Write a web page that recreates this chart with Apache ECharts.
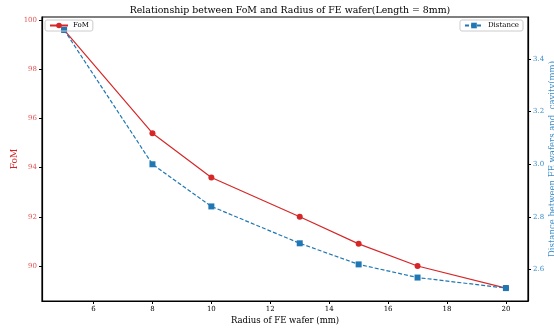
<!DOCTYPE html>
<html><head><meta charset="utf-8">
<script src="https://cdn.jsdelivr.net/npm/echarts@6/dist/echarts.min.js"></script>
<style>html,body{margin:0;padding:0;background:#fff}#c{width:554px;height:328px}</style>
</head><body><div id="c"></div>
<script>
const radius = [5, 8, 10, 13, 15, 17, 20];
const fom = [99.6, 95.4, 93.6, 92.0, 90.9, 90.0, 89.1];
const distance = [3.51, 3.00, 2.84, 2.70, 2.62, 2.57, 2.53];
const xTicks = [6, 8, 10, 12, 14, 16, 18, 20];
const fomTicks = [90, 92, 94, 96, 98, 100];
const distTicks = [2.6, 2.8, 3.0, 3.2, 3.4];

const RED = '#d62728', BLUE = '#1f77b4';
const FONT = 'DejaVu Serif';
function pad(arr){const mn=Math.min(...arr),mx=Math.max(...arr),d=(mx-mn)*0.05;return [mn-d,mx+d];}
const xr = pad(radius), fr = pad(fom), dr = pad(distance);

const chart = echarts.init(document.getElementById('c'));
chart.setOption({
  animation: false,
  title: {text: 'Relationship between FoM and Radius of FE wafer(Length = 8mm)', left: 285, textAlign: 'center', top: 1,
    textStyle: {fontFamily: FONT, fontSize: 9.4, fontWeight: 'normal', color: '#000'}},
  grid: {left: 42, right: 26, top: 17, bottom: 27, outerBoundsMode: 'none', containLabel: false,
    show: true, borderColor: '#000', borderWidth: 1.2, backgroundColor: 'transparent'},
  legend: [
    {data: ['FoM'], left: 45, top: 20, orient: 'vertical', borderColor: '#ccc', borderWidth: 1, borderRadius: 2,
     padding: [2, 4], itemWidth: 18, itemHeight: 7, itemGap: 2,
     textStyle: {fontFamily: FONT, fontSize: 7, color: '#000'}},
    {data: ['Distance'], right: 31, top: 20, orient: 'vertical', borderColor: '#ccc', borderWidth: 1, borderRadius: 2,
     padding: [2, 4], itemWidth: 18, itemHeight: 7, itemGap: 2,
     textStyle: {fontFamily: FONT, fontSize: 7, color: '#000'}}
  ],
  xAxis: {type: 'value', min: xr[0], max: xr[1],
    name: 'Radius of FE wafer (mm)', nameLocation: 'middle', nameGap: 15, nameMoveOverlap: false,
    nameTextStyle: {fontFamily: FONT, fontSize: 8.5, color: '#000', verticalAlign: 'top'},
    axisLine: {show: true, lineStyle: {color: '#000', width: 1.2}},
    axisTick: {show: true, length: 3, customValues: xTicks, lineStyle: {color: '#000'}},
    axisLabel: {customValues: xTicks, fontFamily: FONT, fontSize: 7, color: '#000', margin: 5},
    splitLine: {show: false}},
  yAxis: [
    {type: 'value', min: fr[0], max: fr[1], position: 'left',
     name: 'FoM', nameLocation: 'middle', nameGap: 23, nameMoveOverlap: false,
     nameTextStyle: {fontFamily: FONT, fontSize: 9, color: RED},
     axisLine: {show: true, lineStyle: {color: '#000', width: 1.2}},
     axisTick: {show: true, length: 3, customValues: fomTicks, lineStyle: {color: '#000'}},
     axisLabel: {customValues: fomTicks, fontFamily: FONT, fontSize: 7, color: '#e05555', margin: 5},
     splitLine: {show: false}},
    {type: 'value', min: dr[0], max: dr[1], position: 'right',
     name: 'Distance between FE wafers and  cavity(mm)', nameLocation: 'middle', nameGap: 20, nameRotate: 90, nameMoveOverlap: false,
     nameTextStyle: {fontFamily: FONT, fontSize: 8.5, color: '#3a8cc8'},
     axisLine: {show: true, lineStyle: {color: '#000', width: 1.2}},
     axisTick: {show: true, length: 3, customValues: distTicks, lineStyle: {color: '#000'}},
     axisLabel: {customValues: distTicks, fontFamily: FONT, fontSize: 7, color: '#3a8cc8', margin: 5,
       formatter: v => v.toFixed(1)},
     splitLine: {show: false}}
  ],
  series: [
    {name: 'FoM', type: 'line', yAxisIndex: 0, data: radius.map((r, i) => [r, fom[i]]),
     symbol: 'circle', symbolSize: 6, color: RED, lineStyle: {color: RED, width: 1.2}, itemStyle: {color: RED}},
    {name: 'Distance', type: 'line', yAxisIndex: 1, data: radius.map((r, i) => [r, distance[i]]),
     symbol: 'rect', symbolSize: 6, color: BLUE, lineStyle: {color: BLUE, width: 1.2, type: [4, 2]}, itemStyle: {color: BLUE}}
  ]
});
</script></body></html>
